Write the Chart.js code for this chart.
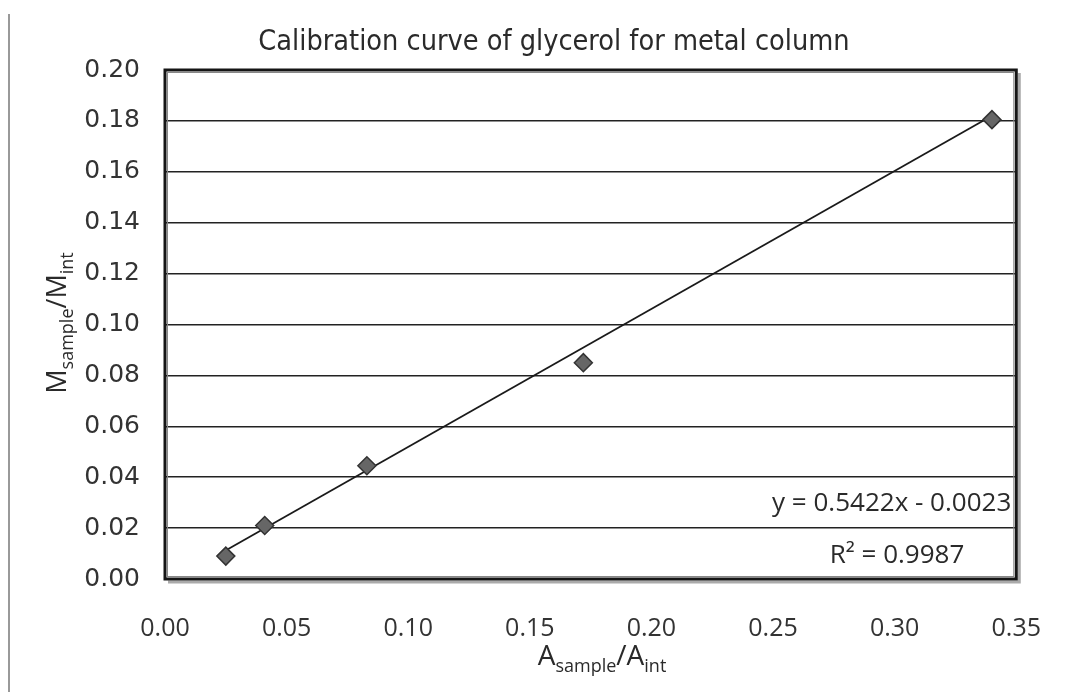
<!DOCTYPE html>
<html lang="en">
<head>
    <meta charset="UTF-8">
    <title>Calibration curve of glycerol</title>
    <script src="https://cdn.jsdelivr.net/npm/chart.js"></script>
    <style>
        html, body { margin: 0; padding: 0; background: #fff; }
        #wrap { width: 1076px; height: 692px; position: relative; }
    </style>
</head>
<body>
    <div id="wrap"><canvas id="calChart" width="1076" height="692"></canvas></div>

    <script>
        // data
        const ratioA = [0.025, 0.041, 0.083, 0.172, 0.340];
        const ratioM = [0.009, 0.021, 0.0445, 0.085, 0.1805];
        const trendX = [0.024, 0.340];
        const trendY = [0.0107, 0.1820];
        const xTicks = [0, 0.05, 0.10, 0.15, 0.20, 0.25, 0.30, 0.35];
        const yTicks = [0, 0.02, 0.04, 0.06, 0.08, 0.10, 0.12, 0.14, 0.16, 0.18, 0.20];
        const eqText = 'y = 0.5422x - 0.0023';
        const r2Text = 'R\u00b2 = 0.9987';
        const titleText = 'Calibration curve of glycerol for metal column';

        const FONT = '"Open Sans", "DejaVu Sans", sans-serif';
        const WIDE = '"DejaVu Sans", sans-serif';
        const NARROW = '"DejaVu Sans Condensed", "DejaVu Sans", sans-serif';

        // draws title, plot frame, equation and axis titles with subscripts
        const decor = {
            id: 'decor',
            beforeDatasetsDraw(chart) {
                const { ctx, chartArea: a } = chart;
                ctx.save();
                // shadow of plot frame
                ctx.strokeStyle = '#aaa';
                ctx.lineWidth = 3;
                ctx.beginPath();
                ctx.moveTo(a.left + 3, a.bottom + 3);
                ctx.lineTo(a.right + 3, a.bottom + 3);
                ctx.lineTo(a.right + 3, a.top + 3);
                ctx.stroke();
                ctx.strokeStyle = '#151515';
                ctx.lineWidth = 3;
                ctx.strokeRect(a.left, a.top, a.right - a.left, a.bottom - a.top);
                ctx.strokeStyle = '#888';
                ctx.lineWidth = 1;
                ctx.strokeRect(a.left + 2.5, a.top + 2.5, a.right - a.left - 5, a.bottom - a.top - 5);
                ctx.restore();
            },
            afterDraw(chart) {
                const { ctx, chartArea: a } = chart;
                ctx.save();
                ctx.fillStyle = '#2a2a2a';
                // outer frame line on left
                ctx.strokeStyle = '#777';
                ctx.lineWidth = 1.5;
                ctx.beginPath();
                ctx.moveTo(9, 14);
                ctx.lineTo(9, 692);
                ctx.stroke();

                // title, sized to the width it takes in the picture
                ctx.textBaseline = 'alphabetic';
                ctx.textAlign = 'center';
                ctx.font = '100px ' + NARROW;
                const tSize = 100 * 592 / ctx.measureText(titleText).width;
                ctx.font = tSize.toFixed(1) + 'px ' + NARROW;
                ctx.fillText(titleText, 554, 50);

                ctx.font = '26px ' + FONT;
                ctx.textAlign = 'right';
                ctx.fillText(eqText, a.right - 5, 511);
                ctx.textAlign = 'center';
                ctx.fillText(r2Text, 897, 563);

                // x title: A_sample/A_int
                drawSub(ctx, 'A', 'sample', '/A', 'int', 602, 665, 28, 18);
                // y title rotated
                ctx.translate(66, 323);
                ctx.rotate(-Math.PI / 2);
                drawSub(ctx, 'M', 'sample', '/M', 'int', 0, 0, 27, 18);
                ctx.restore();
            }
        };

        function drawSub(ctx, a, sa, b, sb, cx, by, bigPx, smallPx) {
            const big = bigPx + 'px ' + FONT, small = smallPx + 'px ' + FONT;
            ctx.font = big; const w1 = ctx.measureText(a).width, w3 = ctx.measureText(b).width;
            ctx.font = small; const w2 = ctx.measureText(sa).width, w4 = ctx.measureText(sb).width;
            let x = cx - (w1 + w2 + w3 + w4) / 2;
            ctx.textAlign = 'left';
            ctx.font = big; ctx.fillText(a, x, by); x += w1;
            ctx.font = small; ctx.fillText(sa, x, by + 7); x += w2;
            ctx.font = big; ctx.fillText(b, x, by); x += w3;
            ctx.font = small; ctx.fillText(sb, x, by + 7);
        }

        const ctx = document.getElementById('calChart').getContext('2d');
        const calChart = new Chart(ctx, {
            type: 'scatter',
            data: {
                datasets: [{
                    label: 'Data',
                    data: ratioA.map((x, i) => ({ x: x, y: ratioM[i] })),
                    pointStyle: 'rectRot',
                    pointRadius: 9,
                    backgroundColor: '#666',
                    borderColor: '#333',
                    borderWidth: 1.5,
                    order: 1
                }, {
                    label: 'Trend',
                    type: 'line',
                    data: trendX.map((x, i) => ({ x: x, y: trendY[i] })),
                    borderColor: '#1a1a1a',
                    borderWidth: 1.8,
                    pointRadius: 0,
                    fill: false,
                    order: 2
                }]
            },
            options: {
                responsive: false,
                animation: false,
                layout: { padding: { left: 0, right: 59, top: 70, bottom: 0 } },
                plugins: { legend: { display: false }, tooltip: { enabled: false } },
                scales: {
                    x: {
                        type: 'linear', min: 0, max: 0.35,
                        afterBuildTicks: s => { s.ticks = xTicks.map(v => ({ value: v })); },
                        afterFit: s => { s.height = 113; },
                        grid: { display: false, drawTicks: false },
                        border: { display: false },
                        ticks: {
                            padding: 35, color: '#333',
                            font: { family: FONT, size: 25 },
                            callback: v => v.toFixed(2)
                        }
                    },
                    y: {
                        type: 'linear', min: 0, max: 0.20,
                        afterBuildTicks: s => { s.ticks = yTicks.map(v => ({ value: v })); },
                        afterFit: s => { s.width = 165; },
                        grid: { color: '#222', lineWidth: 1.5, drawTicks: false },
                        border: { display: false },
                        ticks: {
                            padding: 25, color: '#333',
                            font: { family: WIDE, size: 25 },
                            callback: v => v.toFixed(2)
                        }
                    }
                }
            },
            plugins: [decor]
        });
    </script>
</body>
</html>
